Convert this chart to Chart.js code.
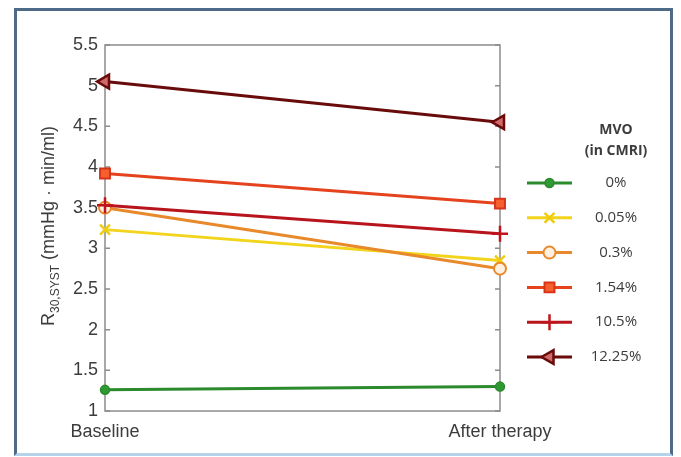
<!DOCTYPE html>
<html>
<head>
<meta charset="utf-8">
<script src="https://cdn.jsdelivr.net/npm/chart.js@4.4.1/dist/chart.umd.min.js"></script>
<style>
  html, body { margin: 0; padding: 0; background: #fff; }
  #wrap { position: relative; width: 681px; height: 457px; overflow: hidden; }
  #frame { position: absolute; left: 14px; top: 8px; width: 653px; height: 442px;
           border: 3px solid #4d6b88; border-bottom-color: #b5d3ea; }
  #chart { position: absolute; left: 0; top: 0; }
</style>
</head>
<body>
<div id="wrap">
  <div id="frame"></div>
  <canvas id="chart" width="681" height="457"></canvas>
</div>
<script>
// ===== data =====
const stages = ['Baseline', 'After therapy'];
const mvoLabels = ['0%', '0.05%', '0.3%', '1.54%', '10.5%', '12.25%'];
const mvo0 = [1.26, 1.30];
const mvo005 = [3.23, 2.85];
const mvo03 = [3.50, 2.75];
const mvo154 = [3.92, 3.55];
const mvo105 = [3.53, 3.18];
const mvo1225 = [5.05, 4.55];
const yTicks = [1, 1.5, 2, 2.5, 3, 3.5, 4, 4.5, 5, 5.5];

const FONT = '"Liberation Sans", Arial, sans-serif';
const TEXT = '#3c3c3c';

// box with inward ticks (matlab style)
const boxPlugin = {
  id: 'box',
  beforeDatasetsDraw(chart) {
    const { ctx, chartArea: a } = chart;
    const y = chart.scales.y;
    ctx.save();
    ctx.strokeStyle = '#8c8c8c';
    ctx.lineWidth = 1.5;
    ctx.strokeRect(a.left, a.top, a.right - a.left, a.bottom - a.top);
    ctx.beginPath();
    y.ticks.forEach(t => {
      const py = y.getPixelForValue(t.value);
      ctx.moveTo(a.left, py); ctx.lineTo(a.left + 5, py);
      ctx.moveTo(a.right, py); ctx.lineTo(a.right - 5, py);
    });
    ctx.stroke();
    ctx.restore();
  }
};

// y title with subscript
const yTitlePlugin = {
  id: 'yTitle',
  afterDraw(chart) {
    const ctx = chart.ctx;
    const a = chart.chartArea;
    const parts = [
      { t: 'R', f: '18px ' + FONT, dy: 0 },
      { t: '30,SYST', f: '12px ' + FONT, dy: 5 },
      { t: ' (mmHg \u00b7 min/ml)', f: '18px ' + FONT, dy: 0 }
    ];
    ctx.save();
    let total = 0;
    parts.forEach(p => { ctx.font = p.f; p.w = ctx.measureText(p.t).width; total += p.w; });
    ctx.translate(47, (a.top + a.bottom) / 2 - 2);
    ctx.rotate(-Math.PI / 2);
    ctx.fillStyle = TEXT;
    ctx.textBaseline = 'alphabetic';
    let x = -total / 2;
    parts.forEach(p => {
      ctx.font = p.f;
      ctx.fillText(p.t, x, 7 + p.dy);
      x += p.w;
    });
    ctx.restore();
  }
};

// legend on the right: line + marker, label centred
const legendPlugin = {
  id: 'mvoLegend',
  afterDraw(chart) {
    const ctx = chart.ctx;
    const x1 = 527, x2 = 572, tx = 616;
    ctx.save();
    ctx.fillStyle = TEXT;
    ctx.textAlign = 'center';
    ctx.textBaseline = 'middle';
    ctx.font = 'bold 14px "Open Sans", sans-serif';
    ctx.fillText('MVO', tx, 130);
    ctx.fillText('(in CMRI)', tx, 151);
    ctx.font = '15px "Open Sans", sans-serif';
    chart.data.datasets.forEach((ds, i) => {
      const cy = 183 + i * 34.8;
      ctx.strokeStyle = ds.borderColor;
      ctx.lineWidth = 3;
      ctx.beginPath();
      ctx.moveTo(x1, cy); ctx.lineTo(x2, cy);
      ctx.stroke();
      ctx.fillStyle = ds.pointBackgroundColor;
      ctx.strokeStyle = ds.pointBorderColor || ds.borderColor;
      ctx.lineWidth = ds.pointBorderWidth;
      const opts = { pointStyle: ds.pointStyle, rotation: ds.pointRotation || 0,
                     radius: ds.pointRadius, borderWidth: ds.pointBorderWidth };
      if (Chart.helpers && Chart.helpers.drawPoint) {
        Chart.helpers.drawPoint(ctx, opts, (x1 + x2) / 2, cy);
      }
      ctx.fillStyle = TEXT;
      ctx.fillText(ds.label, tx, cy);
    });
    ctx.restore();
  }
};

const lineStyle = { borderWidth: 3, tension: 0, clip: false, fill: false };

const ctx = document.getElementById('chart').getContext('2d');
const chart = new Chart(ctx, {
  type: 'line',
  data: {
    labels: stages,
    datasets: [
      { ...lineStyle, label: mvoLabels[0], data: mvo0, order: 6,
        borderColor: '#2b8a2b', pointBackgroundColor: '#2f9a35', pointBorderColor: '#2b8a2b',
        pointStyle: 'circle', pointRadius: 4.5, pointBorderWidth: 1.5 },
      { ...lineStyle, label: mvoLabels[1], data: mvo005, order: 5,
        borderColor: '#f2d41c', pointBackgroundColor: '#f2d41c', pointBorderColor: '#f0cc10',
        pointStyle: 'crossRot', pointRadius: 7, pointBorderWidth: 2.5 },
      { ...lineStyle, label: mvoLabels[2], data: mvo03, order: 4,
        borderColor: '#e8892b', pointBackgroundColor: '#fdf0e0', pointBorderColor: '#e8892b',
        pointStyle: 'circle', pointRadius: 6, pointBorderWidth: 2 },
      { ...lineStyle, label: mvoLabels[3], data: mvo154, order: 3,
        borderColor: '#e5421e', pointBackgroundColor: '#f5602e', pointBorderColor: '#d8341a',
        pointStyle: 'rect', pointRadius: 7, pointBorderWidth: 2 },
      { ...lineStyle, label: mvoLabels[4], data: mvo105, order: 2,
        borderColor: '#b8141c', pointBackgroundColor: '#b8141c', pointBorderColor: '#c0141c',
        pointStyle: 'cross', pointRadius: 8, pointBorderWidth: 2.5 },
      { ...lineStyle, label: mvoLabels[5], data: mvo1225, order: 1,
        borderColor: '#6a0b0b', pointBackgroundColor: '#d06a6a', pointBorderColor: '#6a0b0b',
        pointStyle: 'triangle', pointRotation: -90, pointRadius: 8, pointBorderWidth: 2.5 }
    ]
  },
  options: {
    responsive: false,
    animation: false,
    events: [],
    layout: { padding: { left: 15, top: 45, right: 181, bottom: 0 } },
    plugins: { legend: { display: false }, tooltip: { enabled: false } },
    scales: {
      x: {
        type: 'category',
        offset: false,
        grid: { display: false, drawTicks: false },
        border: { display: false },
        ticks: { color: TEXT, font: { family: FONT, size: 18 }, padding: 10, maxRotation: 0 },
        afterFit(scale) { scale.height = 46; }
      },
      y: {
        min: 1, max: 5.5,
        grid: { display: false, drawTicks: false },
        border: { display: false },
        ticks: { color: TEXT, font: { family: FONT, size: 18 }, padding: 7,
                 callback: v => String(v) },
        afterBuildTicks(scale) { scale.ticks = yTicks.map(v => ({ value: v })); },
        afterFit(scale) { scale.width = 90; }
      }
    }
  },
  plugins: [boxPlugin, yTitlePlugin, legendPlugin]
});
</script>
</body>
</html>
